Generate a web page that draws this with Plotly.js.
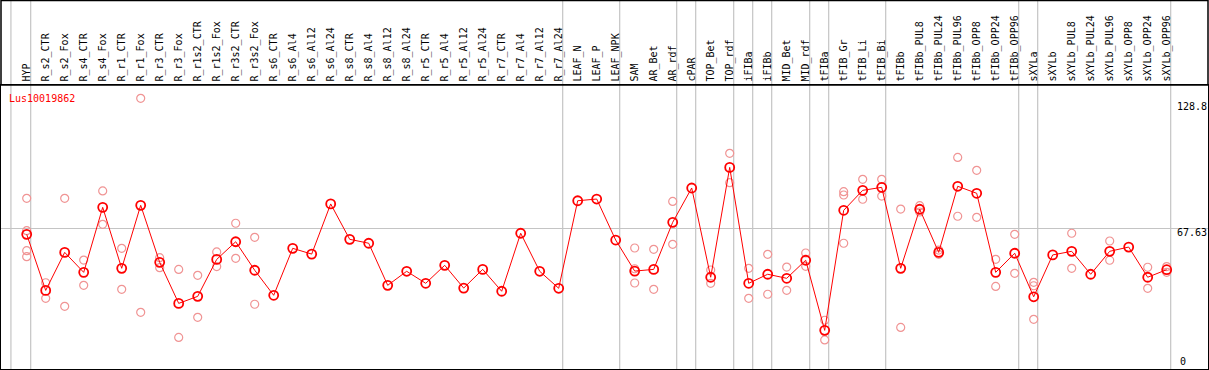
<!DOCTYPE html>
<html>
<head>
<meta charset="utf-8">
<script src="https://cdn.plot.ly/plotly-3.0.1.min.js"></script>
<style>html,body{margin:0;padding:0;background:#fff;}#chart{width:1209px;height:370px;}</style>
</head>
<body>
<div id="chart"></div>
<script>
const geneName = "Lus10019862";
const categories = ["HYP","R_s2_CTR","R_s2_Fox","R_s4_CTR","R_s4_Fox","R_r1_CTR","R_r1_Fox","R_r3_CTR","R_r3_Fox","R_r1s2_CTR","R_r1s2_Fox","R_r3s2_CTR","R_r3s2_Fox","R_s6_CTR","R_s6_Al4","R_s6_Al12","R_s6_Al24","R_s8_CTR","R_s8_Al4","R_s8_Al12","R_s8_Al24","R_r5_CTR","R_r5_Al4","R_r5_Al12","R_r5_Al24","R_r7_CTR","R_r7_Al4","R_r7_Al12","R_r7_Al24","LEAF_N","LEAF_P","LEAF_NPK","SAM","AR_Bet","AR_rdf","cPAR","TOP_Bet","TOP_rdf","iFIBa","iFIBb","MID_Bet","MID_rdf","tFIBa","tFIB_Gr","tFIB_Li","tFIB_Bi","tFIBb","tFIBb_PUL8","tFIBb_PUL24","tFIBb_PUL96","tFIBb_OPP8","tFIBb_OPP24","tFIBb_OPP96","sXYLa","sXYLb","sXYLb_PUL8","sXYLb_PUL24","sXYLb_PUL96","sXYLb_OPP8","sXYLb_OPP24","sXYLb_OPP96"];
// group sizes (gray separators after each group)
const groupSizes = [1,28,3,3,1,2,1,1,2,1,3,7,1,7];
const meanValues = [64.8,38.4,56.3,46.9,77.5,48.8,78.45,51.6,32.3,35.6,53.0,61.3,47.9,36.1,58.2,55.5,79.1,62.45,60.6,40.8,47.4,41.75,50.2,39.5,48.3,38.0,65.3,47.4,39.4,80.6,81.4,62.1,47.5,48.3,70.45,86.6,44.6,96.3,41.75,46.0,44.1,52.6,19.6,76.1,85.5,86.9,48.8,76.6,56.3,87.4,84.1,46.9,55.9,35.4,55.1,56.8,46.0,56.8,58.8,44.6,48.15];
const rep1 = [81.75,42.0,81.75,52.7,85.2,58.2,128.8,53.8,48.3,45.5,56.5,70.0,63.4,null,null,null,null,null,null,null,null,null,null,null,null,null,null,null,null,null,null,null,58.35,57.75,80.3,null,48.0,102.9,48.8,55.4,49.4,56.0,24.35,84.85,90.7,90.7,76.7,78.3,57.4,101.0,94.9,53.05,64.8,42.2,null,65.3,null,61.65,null,49.3,49.6];
const rep2 = [66.5,34.7,30.9,40.8,69.5,38.9,28.1,49.1,16.3,25.75,49.6,53.5,31.9,null,null,null,null,null,null,null,null,null,null,null,null,null,null,null,null,null,null,null,48.6,38.9,60.1,null,41.75,89.1,34.7,36.6,38.45,49.75,15.1,83.3,81.3,82.8,21.0,75.3,55.4,73.3,72.8,40.3,46.45,40.6,null,48.8,null,52.6,null,39.4,46.9];
const rep3 = [57.1,null,null,null,null,null,null,null,null,null,null,null,null,null,null,null,null,null,null,null,null,null,null,null,null,null,null,null,null,null,null,null,41.9,null,null,null,null,null,null,null,null,null,null,60.6,null,null,null,null,null,null,null,null,null,24.8,null,null,null,null,null,null,null];
const rep4 = [54.3,null,null,null,null,null,null,null,null,null,null,null,null,null,null,null,null,null,null,null,null,null,null,null,null,null,null,null,null,null,null,null,null,null,null,null,null,null,null,null,null,null,null,null,null,null,null,null,null,null,null,null,null,null,null,null,null,null,null,null,null];
const yTickLabels = ["128.8","67.63","0"];

const W = 1209, H = 370;
const mL = 1, mR = 1, mT = 85, mB = 1;
const plotW = W - mL - mR, plotH = H - mT - mB;
const idx = categories.map((c, i) => i);

// x scale: category i at pixel 26.7 + 19*i
const px0 = 26.7, step = 19;
const xRange = [(mL - px0) / step, (mL + plotW - px0) / step];
// y scale: 67.63 at pixel 228.3, 2.125 px per unit
const yRef = 67.63, yRefPx = 228.3, yScale = 2.125;
const yRange = [yRef - (mT + plotH - yRefPx) / yScale, yRef + (yRefPx - mT) / yScale];

const repColor = "#f09494";
const repTraces = [rep1, rep2, rep3, rep4].map(r => ({
  x: idx, y: r, type: "scatter", mode: "markers", hoverinfo: "skip",
  marker: {symbol: "circle-open", size: 8, color: repColor, line: {width: 1.2, color: repColor}},
  showlegend: false
}));
const mainTrace = {
  x: idx, y: meanValues, type: "scatter", mode: "lines+markers",
  line: {color: "#ff0000", width: 1},
  marker: {symbol: "circle-open", size: 9, color: "#ff0000", line: {width: 1.8, color: "#ff0000"}},
  showlegend: false
};

// separators
const shapes = [];
const topPaper = (H - mB) / plotH; // paper y of image top
function sep(xv) {
  shapes.push({type: "line", xref: "x", yref: "paper", x0: xv, x1: xv, y0: 0, y1: topPaper,
    line: {color: "#c4c4c4", width: 1.2}, layer: "below"});
}
sep(-0.83);
let acc = 0;
groupSizes.forEach(g => { acc += g; sep(acc - 1 + 0.21); });
// outer frame around label band
shapes.push({type: "rect", xref: "paper", yref: "paper", x0: 0, x1: 1, y0: 1, y1: topPaper - 0.5 / plotH,
  line: {color: "#000", width: 1.5}, fillcolor: "rgba(0,0,0,0)"});

const mono = "DejaVu Sans Mono, monospace";
const pxY = py => (H - mB - py) / plotH;
const pxX = px => (px - mL) / plotW;
const annotations = [
  {text: yTickLabels[0], y: pxY(106)},
  {text: yTickLabels[1], y: pxY(232.5)},
  {text: yTickLabels[2], y: pxY(361.5)}
].map((a, k) => ({
  text: a.text, xref: "paper", yref: "paper", x: pxX(k === 2 ? 1178 : 1175), y: a.y,
  xanchor: "left", yanchor: "middle", showarrow: false,
  font: {family: mono, size: 10, color: "#000"}
}));

const layout = {
  width: W, height: H,
  margin: {l: mL, r: mR, t: mT, b: mB, pad: 0},
  paper_bgcolor: "#fff", plot_bgcolor: "#fff",
  title: {text: geneName, xref: "paper", yref: "paper", x: pxX(9), y: pxY(98),
    xanchor: "left", yanchor: "middle", font: {family: mono, size: 10, color: "#ff0000"}},
  xaxis: {range: xRange, side: "top", tickmode: "array", tickvals: idx, ticktext: categories,
    tickangle: -90, ticks: "", showgrid: false, zeroline: false, automargin: false,
    tickfont: {family: mono, size: 10, color: "#000"},
    showline: true, linecolor: "#000", linewidth: 1.5, mirror: true, ticklabelstandoff: 0},
  yaxis: {range: yRange, tickmode: "array", tickvals: [yRef], showticklabels: false, ticks: "",
    showgrid: true, gridcolor: "#c4c4c4", gridwidth: 1.2, zeroline: false, automargin: false,
    showline: true, linecolor: "#000", linewidth: 1.5, mirror: true},
  shapes: shapes,
  annotations: annotations
};

Plotly.newPlot("chart", [...repTraces, mainTrace], layout, {displayModeBar: false, staticPlot: true});
</script>
</body>
</html>
